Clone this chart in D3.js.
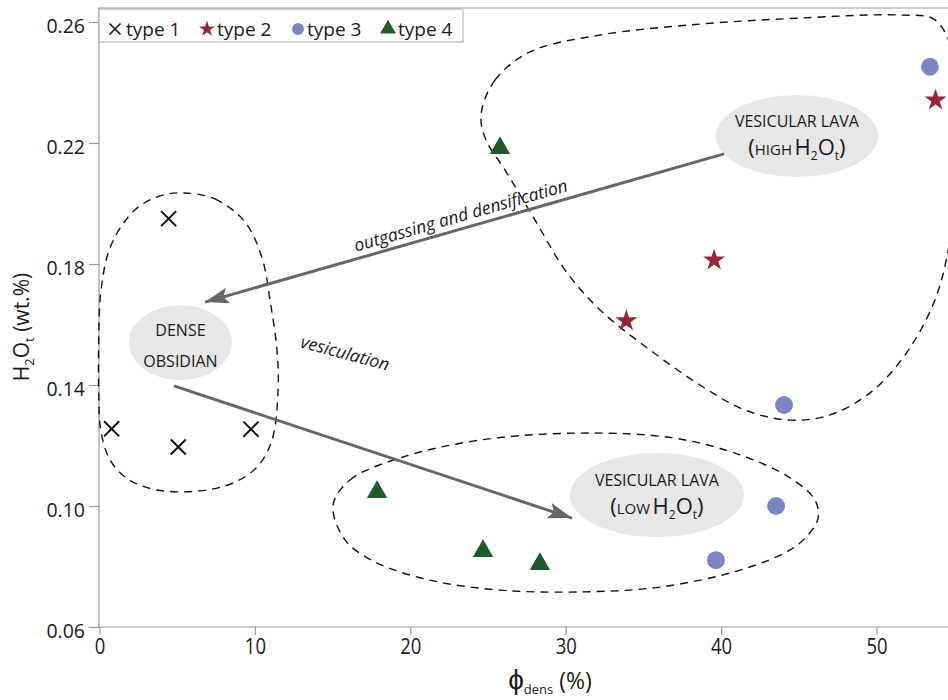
<!DOCTYPE html>
<html>
<head>
<meta charset="utf-8">
<script src="https://cdn.jsdelivr.net/npm/d3@7/dist/d3.min.js"></script>
<style>
  body { margin: 0; background: #fff; }
  svg text { font-family: "Open Sans", sans-serif; fill: #1a1a1a; }
</style>
</head>
<body>
<div id="chart"></div>
<script>
// measured values (phi_dens %, H2Ot wt.%)
const type1 = [{ x: 0.78, y: 0.1255 }, { x: 4.45, y: 0.1950 }, { x: 5.07, y: 0.1195 }, { x: 9.75, y: 0.1254 }];
const type2 = [{ x: 33.9, y: 0.1612 }, { x: 39.55, y: 0.1813 }, { x: 53.8, y: 0.2342 }];
const type3 = [{ x: 39.67, y: 0.0821 }, { x: 43.54, y: 0.1000 }, { x: 44.05, y: 0.1334 }, { x: 53.44, y: 0.2452 }];
const type4 = [{ x: 17.86, y: 0.1046 }, { x: 24.68, y: 0.0851 }, { x: 25.77, y: 0.2183 }, { x: 28.34, y: 0.0808 }];

const xTicks = [0, 10, 20, 30, 40, 50];
const yTicks = [0.06, 0.10, 0.14, 0.18, 0.22, 0.26];

// hand drawn group outlines, in data units
const outlineHigh = [[24.55, 0.2293], [25.45, 0.2408], [27.70, 0.2501], [32.21, 0.2557], [38.64, 0.2593], [45.08, 0.2613],
  [51.51, 0.2623], [53.76, 0.2607], [55.05, 0.2474], [55.37, 0.2177], [54.73, 0.1879], [53.76, 0.1681], [51.83, 0.1499],
  [49.58, 0.1374], [47.01, 0.1301], [44.44, 0.1284], [41.54, 0.1317], [38.64, 0.1400], [35.42, 0.1516], [32.21, 0.1648],
  [29.96, 0.1780], [28.03, 0.1945], [26.09, 0.2111], [24.87, 0.2210]];
const outlineDense = [[5.37, 0.2035], [7.43, 0.2015], [9.36, 0.1939], [10.46, 0.1820], [10.97, 0.1681], [11.42, 0.1516],
  [11.49, 0.1383], [11.10, 0.1218], [10.14, 0.1129], [8.59, 0.1076], [6.47, 0.1050], [3.70, 0.1053], [1.83, 0.1089],
  [0.68, 0.1152], [0.08, 0.1251], [-0.05, 0.1383], [-0.05, 0.1549], [0.1, 0.1714], [0.75, 0.1863], [2.28, 0.1979], [3.89, 0.2025]];
const outlineLow = [[15.03, 0.1003], [16.12, 0.1086], [19.34, 0.1159], [24.49, 0.1218], [30.92, 0.1241], [36.91, 0.1225],
  [41.22, 0.1169], [44.44, 0.1093], [46.04, 0.1020], [46.24, 0.0960], [45.59, 0.0904], [44.44, 0.0855], [41.22, 0.0788],
  [36.07, 0.0732], [30.92, 0.0716], [25.77, 0.0722], [21.27, 0.0755], [17.73, 0.0815], [15.80, 0.0888]];

// grey label bubbles: centre and radii in data units
const bubbles = [
  { cx: 44.88, cy: 0.2223, rx: 5.21, ry: 0.01355, lines: ['VESICULAR LAVA', 'HIGH'] },
  { cx: 5.21, cy: 0.1540, rx: 3.31, ry: 0.0124, lines: ['DENSE', 'OBSIDIAN'] },
  { cx: 35.87, cy: 0.1036, rx: 5.6, ry: 0.0139, lines: ['VESICULAR LAVA', 'LOW'] }
];

const arrows = [
  { x1: 40.19, y1: 0.2164, x2: 6.79, y2: 0.1674 },
  { x1: 4.79, y1: 0.1397, x2: 30.4, y2: 0.0960 }
];

const colors = { type1: '#111', type2: '#9a2338', type3: '#7b86c5', type4: '#1f5b2d' };

const W = 948, H = 700;
const svg = d3.select('#chart').append('svg').attr('width', W).attr('height', H);

const x = d3.scaleLinear().domain([0, 55]).range([99.5, 99.5 + 55 * 15.54]);
const y = d3.scaleLinear().domain([0.06, 0.26]).range([627, 22]);

svg.append('defs').append('clipPath').attr('id', 'plot')
  .append('rect').attr('x', 97).attr('y', 8).attr('width', W - 97).attr('height', 619);

svg.append('defs').append('marker')
  .attr('id', 'head').attr('markerUnits', 'userSpaceOnUse')
  .attr('markerWidth', 28).attr('markerHeight', 18)
  .attr('refX', 24).attr('refY', 8).attr('orient', 'auto')
  .append('path').attr('d', 'M0,0 L24,8 L0,16 L5,8 Z').attr('fill', '#666');

// axes
const xAxis = svg.append('g').attr('transform', 'translate(0,627)')
  .call(d3.axisBottom(x).tickValues(xTicks).tickSize(8).tickPadding(4));
xAxis.selectAll('text').attr('font-size', 21).attr('transform', 'scale(0.88,1)');

const yAxis = svg.append('g').attr('transform', 'translate(99,0)')
  .call(d3.axisLeft(y).tickValues(yTicks).tickFormat(d3.format('.2f')).tickSize(10).tickPadding(4));
yAxis.selectAll('text').attr('font-size', 19.5).attr('y', 4);

svg.selectAll('.domain').remove();
svg.selectAll('.tick line').attr('stroke', '#9a9a9a').attr('stroke-width', 1.2);
svg.selectAll('.tick text').style('font-family', '"Open Sans", sans-serif').attr('fill', '#1a1a1a');

// frame
svg.append('path')
  .attr('d', `M${W},8 H99 V627 H${W}`)
  .attr('fill', 'none').attr('stroke', '#9a9a9a').attr('stroke-width', 1.2);

const plot = svg.append('g').attr('clip-path', 'url(#plot)');

// dashed outlines
const outline = d3.line().x(d => x(d[0])).y(d => y(d[1])).curve(d3.curveCatmullRomClosed.alpha(0.5));
[outlineHigh, outlineDense, outlineLow].forEach(pts => {
  plot.append('path').attr('d', outline(pts))
    .attr('fill', 'none').attr('stroke', '#111').attr('stroke-width', 1.4)
    .attr('stroke-dasharray', '8,6');
});

// bubbles
bubbles.forEach(b => {
  plot.append('ellipse')
    .attr('cx', x(b.cx)).attr('cy', y(b.cy))
    .attr('rx', x(b.rx) - x(0)).attr('ry', y(0) - y(b.ry))
    .attr('fill', '#e6e7e6');
});

// arrows
arrows.forEach(a => {
  plot.append('line')
    .attr('x1', x(a.x1)).attr('y1', y(a.y1))
    .attr('x2', x(a.x2)).attr('y2', y(a.y2))
    .attr('stroke', '#666').attr('stroke-width', 3)
    .attr('marker-end', 'url(#head)');
});

// bubble text
function waterLine(b) {
  const t = svg.append('text').attr('text-anchor', 'middle')
    .attr('x', x(b.cx)).attr('y', y(b.cy) + 19);
  t.append('tspan').attr('font-size', 22).text('(');
  t.append('tspan').attr('font-size', 15).text(b.lines[1] + '\u2009');
  t.append('tspan').attr('font-size', 22).text('H');
  t.append('tspan').attr('font-size', 12).attr('dy', 5).text('2');
  t.append('tspan').attr('font-size', 22).attr('dy', -5).text('O');
  t.append('tspan').attr('font-size', 12).attr('dy', 5).text('t');
  t.append('tspan').attr('font-size', 22).attr('dy', -5).text(')');
}
bubbles.forEach((b, i) => {
  if (i === 1) {
    svg.append('text').attr('text-anchor', 'middle').attr('font-size', 16)
      .attr('x', x(b.cx)).attr('y', y(b.cy) - 7).text(b.lines[0]);
    svg.append('text').attr('text-anchor', 'middle').attr('font-size', 16)
      .attr('x', x(b.cx)).attr('y', y(b.cy) + 24).text(b.lines[1]);
  } else {
    svg.append('text').attr('text-anchor', 'middle').attr('font-size', 16)
      .attr('x', x(b.cx)).attr('y', y(b.cy) - 9).text(b.lines[0]);
    waterLine(b);
  }
});

// process labels
svg.append('text').attr('font-size', 17.5).attr('font-style', 'italic').attr('text-anchor', 'middle')
  .attr('transform', `translate(${x(23.35)},${y(0.1941)}) rotate(-16)`)
  .text('outgassing and densification');
svg.append('text').attr('font-size', 17.5).attr('font-style', 'italic').attr('text-anchor', 'middle')
  .attr('transform', `translate(${x(15.7)},${y(0.1486)}) rotate(15)`)
  .text('vesiculation');

// points
const cross = d3.symbol().type(d3.symbolX).size(150);
const star = d3.symbol().type(d3.symbolStar).size(150);
const circle = d3.symbol().type(d3.symbolCircle).size(250);
const tri = d3.symbol().type(d3.symbolTriangle).size(180);

plot.selectAll('.t1').data(type1).enter().append('path')
  .attr('transform', d => `translate(${x(d.x)},${y(d.y)})`)
  .attr('d', cross).attr('fill', 'none').attr('stroke', colors.type1).attr('stroke-width', 2);
plot.selectAll('.t2').data(type2).enter().append('path')
  .attr('transform', d => `translate(${x(d.x)},${y(d.y)})`)
  .attr('d', star).attr('fill', colors.type2);
plot.selectAll('.t3').data(type3).enter().append('path')
  .attr('transform', d => `translate(${x(d.x)},${y(d.y)})`)
  .attr('d', circle).attr('fill', colors.type3);
plot.selectAll('.t4').data(type4).enter().append('path')
  .attr('transform', d => `translate(${x(d.x)},${y(d.y)})`)
  .attr('d', tri).attr('fill', colors.type4);

// legend
const legend = svg.append('g');
legend.append('rect').attr('x', 99).attr('y', 9).attr('width', 364).attr('height', 33)
  .attr('fill', '#fff').attr('stroke', '#aaa').attr('stroke-width', 1);
const legendItems = [
  { label: 'type 1', sym: d3.symbol().type(d3.symbolX).size(80), fill: 'none', stroke: colors.type1, sx: 115, tx: 126 },
  { label: 'type 2', sym: d3.symbol().type(d3.symbolStar).size(80), fill: colors.type2, stroke: 'none', sx: 207, tx: 217 },
  { label: 'type 3', sym: d3.symbol().type(d3.symbolCircle).size(110), fill: colors.type3, stroke: 'none', sx: 298, tx: 307 },
  { label: 'type 4', sym: d3.symbol().type(d3.symbolTriangle).size(110), fill: colors.type4, stroke: 'none', sx: 388, tx: 398 }
];
legendItems.forEach(it => {
  legend.append('path').attr('transform', `translate(${it.sx},29)`)
    .attr('d', it.sym).attr('fill', it.fill).attr('stroke', it.stroke).attr('stroke-width', 1.6);
  legend.append('text').attr('x', it.tx).attr('y', 36).attr('font-size', 19).text(it.label);
});

// axis titles
const yt = svg.append('text').attr('text-anchor', 'middle').attr('font-size', 21)
  .attr('transform', 'translate(29,327) rotate(-90)');
yt.append('tspan').text('H');
yt.append('tspan').attr('font-size', 13).attr('dy', 5).text('2');
yt.append('tspan').attr('dy', -5).text('O');
yt.append('tspan').attr('font-size', 13).attr('dy', 5).text('t');
yt.append('tspan').attr('dy', -5).text(' (wt.%)');

const xt = svg.append('text').attr('text-anchor', 'middle').attr('font-size', 23)
  .attr('x', 550).attr('y', 689);
xt.append('tspan').attr('font-size', 28).text('\u03D5');
xt.append('tspan').attr('font-size', 13).attr('dy', 5).text('dens');
xt.append('tspan').attr('dy', -5).text(' (%)');
</script>
</body>
</html>
